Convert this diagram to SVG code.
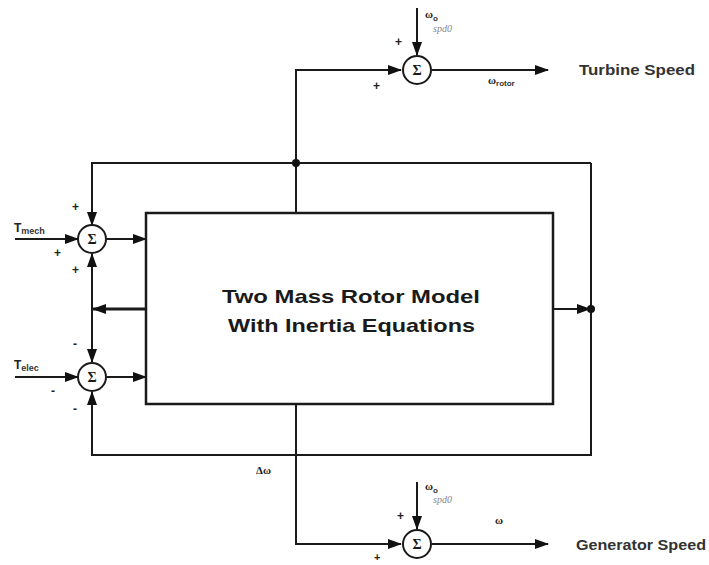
<svg xmlns="http://www.w3.org/2000/svg" width="709" height="565" viewBox="0 0 709 565">
<defs>
<style>
.ln{fill:none;stroke:#1a1a1a;stroke-width:2}
.bx{fill:#fff;stroke:#1a1a1a;stroke-width:2.5}
.sum{fill:#fff;stroke:#1a1a1a;stroke-width:2}
.sig{font-family:"Liberation Serif",serif;font-size:14px;font-weight:bold;fill:#1a1a1a;text-anchor:middle}
.sg{font-family:"Liberation Sans",Arial,sans-serif;font-size:12px;font-weight:bold;fill:#222}
.lbl{font-family:"Liberation Serif",serif;font-size:11px;font-weight:bold;fill:#222}
.sub{font-family:"Liberation Sans",Arial,sans-serif;font-size:8px;fill:#333}
.spd{font-family:"Liberation Serif",serif;font-size:10px;font-style:italic;fill:#888}
.t{font-family:"Liberation Sans",Arial,sans-serif;font-size:12px;font-weight:bold;fill:#222}
.ts{font-family:"Liberation Sans",Arial,sans-serif;font-size:9px;font-weight:bold;fill:#333}
.title{font-family:"Liberation Sans",Arial,sans-serif;font-size:19px;font-weight:bold;fill:#1a1a1a}
.out{font-family:"Liberation Sans",Arial,sans-serif;font-size:14px;font-weight:bold;fill:#333}
</style>
<marker id="arr" markerWidth="14" markerHeight="10" refX="13" refY="5" orient="auto" markerUnits="userSpaceOnUse"><path d="M0,0 L14,5 L0,10 z" fill="#111"/></marker>
</defs>
<rect width="709" height="565" fill="#fff"/>
<g id="connectors">
<polyline class="ln" points="296,213 296,70 401,70" marker-end="url(#arr)"/>
<line class="ln" x1="417" y1="8" x2="417" y2="55" marker-end="url(#arr)"/>
<line class="ln" x1="432" y1="70" x2="548" y2="70" marker-end="url(#arr)"/>
<polyline class="ln" points="591,163 92,163 92,225" marker-end="url(#arr)"/>
<polyline class="ln" points="591,163 591,455 92,455 92,392" marker-end="url(#arr)"/>
<line class="ln" x1="553" y1="309" x2="590" y2="309" marker-end="url(#arr)"/>
<line class="ln" x1="147" y1="309" x2="93" y2="309" style="stroke-width:3" marker-end="url(#arr)"/>
<line class="ln" x1="92" y1="309" x2="92" y2="254" marker-end="url(#arr)"/>
<line class="ln" x1="92" y1="309" x2="92" y2="362" marker-end="url(#arr)"/>
<line class="ln" x1="15" y1="239" x2="78" y2="239" marker-end="url(#arr)"/>
<line class="ln" x1="107" y1="239" x2="146" y2="239" marker-end="url(#arr)"/>
<line class="ln" x1="15" y1="377" x2="78" y2="377" marker-end="url(#arr)"/>
<line class="ln" x1="107" y1="377" x2="146" y2="377" marker-end="url(#arr)"/>
<polyline class="ln" points="296,404 296,544 401,544" marker-end="url(#arr)"/>
<line class="ln" x1="417" y1="482" x2="417" y2="529" marker-end="url(#arr)"/>
<line class="ln" x1="432" y1="544" x2="548" y2="544" marker-end="url(#arr)"/>
<circle cx="296" cy="163" r="4" fill="#111"/>
<circle cx="591" cy="309" r="4" fill="#111"/>
</g>
<g id="model">
<rect class="bx" x="146" y="213" width="407" height="191"/>
<text class="title" x="222" y="303" textLength="258" lengthAdjust="spacingAndGlyphs">Two Mass Rotor Model</text>
<text class="title" x="228" y="332" textLength="247" lengthAdjust="spacingAndGlyphs">With Inertia Equations</text>
</g>
<g id="sum-turbine">
<circle class="sum" cx="417" cy="70" r="14"/>
<text class="sig" x="417" y="75">Σ</text>
<text class="sg" x="395" y="46">+</text>
<text class="sg" x="373" y="90">+</text>
<text class="lbl" x="425" y="18">ω<tspan class="sub" dy="3">o</tspan></text>
<text class="spd" x="433" y="32">spd0</text>
<text class="lbl" x="488" y="84">ω<tspan class="sub" dy="2">rotor</tspan></text>
</g>
<g id="sum-mech">
<circle class="sum" cx="92" cy="239" r="14"/>
<text class="sig" x="92" y="244">Σ</text>
<text class="sg" x="72" y="211">+</text>
<text class="sg" x="54" y="257">+</text>
<text class="sg" x="72" y="274">+</text>
<text class="t" x="14" y="232">T<tspan class="ts" dy="2">mech</tspan></text>
</g>
<g id="sum-elec">
<circle class="sum" cx="92" cy="377" r="14"/>
<text class="sig" x="92" y="382">Σ</text>
<text class="sg" x="73" y="348">-</text>
<text class="sg" x="51" y="395">-</text>
<text class="sg" x="73" y="413">-</text>
<text class="t" x="14" y="369">T<tspan class="ts" dy="2">elec</tspan></text>
</g>
<g id="sum-generator">
<circle class="sum" cx="417" cy="544" r="14"/>
<text class="sig" x="417" y="549">Σ</text>
<text class="sg" x="397" y="520">+</text>
<text class="sg" x="374" y="561" style="font-size:11px">+</text>
<text class="lbl" x="425" y="490">ω<tspan class="sub" dy="3">o</tspan></text>
<text class="spd" x="433" y="503">spd0</text>
<text class="lbl" x="256" y="474">Δω</text>
<text class="lbl" x="495" y="524">ω</text>
</g>
<g id="outputs">
<text class="out" x="579" y="75" textLength="116" lengthAdjust="spacingAndGlyphs">Turbine Speed</text>
<text class="out" x="576" y="550" textLength="130" lengthAdjust="spacingAndGlyphs">Generator Speed</text>
</g>
</svg>
